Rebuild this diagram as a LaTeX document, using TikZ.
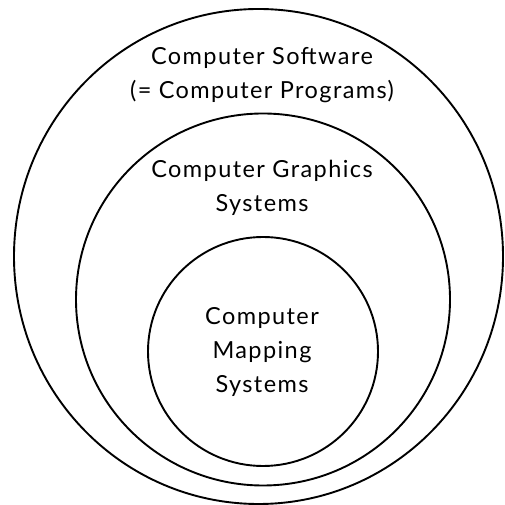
\documentclass[tikz,border=0pt]{standalone}
\usepackage{fontspec}
\setmainfont[LetterSpace=6]{Lato}
\begin{document}
\begin{tikzpicture}[x=1pt,y=1pt,
  ring/.style={draw=black,line width=1.9pt},
  lbl/.style={align=center,font=\fontsize{23.5}{34}\selectfont,inner sep=0pt}]
\useasboundingbox (0,0) rectangle (505,505);
\draw[ring] (258.5,248.5) ellipse [x radius=244.5,y radius=247.5];
\draw[ring] (263,205.5) ellipse [x radius=187,y radius=186];
\draw[ring] (263,153.5) ellipse [x radius=115,y radius=114.5];
\node[lbl] (sw) at (262,429.5) {Computer Software\\(= Computer Programs)};
\node[lbl] (gs) at (262,317.5) {Computer Graphics\\Systems};
\node[lbl] (ms) at (262,153) {Computer\\Mapping\\Systems};
\end{tikzpicture}
\end{document}
